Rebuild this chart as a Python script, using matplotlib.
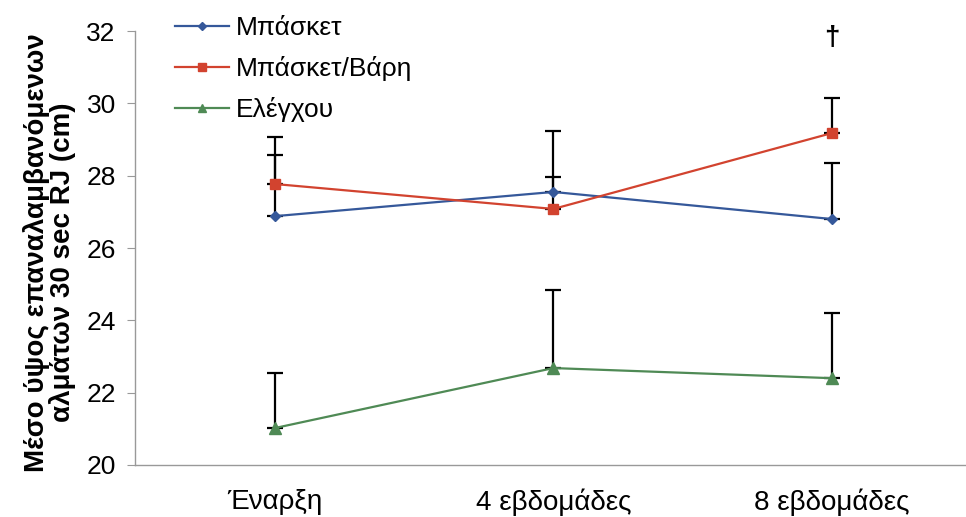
import matplotlib.pyplot as plt
import numpy as np

plt.rcParams['font.family'] = ['Liberation Sans', 'DejaVu Sans']

# categories and means
stages = ['Έναρξη', '4 εβδομάδες', '8 εβδομάδες']
basket = [26.88, 27.55, 26.80]
basket_weights = [27.77, 27.08, 29.18]
control = [21.02, 22.68, 22.40]

# upper error (SD) for each group
basket_err = [1.69, 1.68, 1.55]
basket_weights_err = [1.30, 0.88, 0.97]
control_err = [1.52, 2.16, 1.80]

sig_stage = 2
sig_y = 31.8

fig = plt.figure(figsize=(9.66, 5.17), dpi=100)
ax = fig.add_axes([0.14, 0.1006, 0.86, 0.8394])

x = np.arange(len(stages))
series = [
    ('Μπάσκετ', basket, basket_err, '#35589a', 'D', 5),
    ('Μπάσκετ/Βάρη', basket_weights, basket_weights_err, '#d2432f', 's', 7),
    ('Ελέγχου', control, control_err, '#4f8a55', '^', 8),
]
for label, vals, err, col, mk, ms in series:
    ax.errorbar(x, vals, yerr=[np.zeros(len(vals)), err], fmt='none',
                ecolor='black', elinewidth=1.6, capsize=6, capthick=1.6, zorder=2)
    ax.plot(x, vals, color=col, marker=mk, markersize=ms, linewidth=1.6,
            label=label, zorder=3)

ax.text(sig_stage, sig_y, '†', ha='center', va='center', fontsize=20,
        fontweight='bold', color='black')

ax.set_xlim(-0.5, 2.48)
ax.set_ylim(20, 32)
ax.set_yticks(range(20, 33, 2))
ax.set_xticks(x)
ax.set_xticklabels(stages)
ax.tick_params(axis='x', length=0, pad=17, labelsize=20)
ax.tick_params(axis='y', length=6, color='#999999', labelsize=19, pad=8)

for s in ['top', 'right']:
    ax.spines[s].set_visible(False)
for s in ['left', 'bottom']:
    ax.spines[s].set_color('#999999')
    ax.spines[s].set_linewidth(1)

# y label as two tightly spaced lines
fig.text(37 / 966, 1 - 253 / 517, 'Μέσο ύψος επαναλαμβανόμενων', rotation=90,
         ha='center', va='center', fontsize=20, fontweight='bold')
fig.text(63 / 966, 1 - 262 / 517, 'αλμάτων 30 sec RJ (cm)', rotation=90,
         ha='center', va='center', fontsize=20, fontweight='bold')

ax.legend(loc='upper left', bbox_to_anchor=(0.048, 1.034), frameon=False,
          fontsize=19, handlelength=2.05, handletextpad=0.27, labelspacing=0.6,
          borderpad=0, borderaxespad=0, markerscale=0.75)

fig.savefig('out.png', dpi=100)
